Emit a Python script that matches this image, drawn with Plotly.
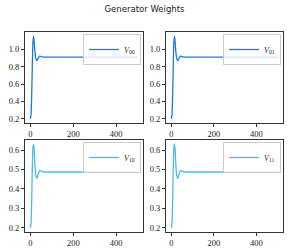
import plotly.graph_objects as go

# ---- data ----
steps = [0, 3, 6, 9, 12, 15, 18, 21, 25, 29, 32, 35, 39, 44, 50, 56, 65, 80, 500]
v00 = [0.2, 0.24, 0.45, 0.80, 1.08, 1.15, 1.08, 0.98, 0.90, 0.87, 0.872, 0.89, 0.91, 0.92, 0.915, 0.912, 0.91, 0.91, 0.91]
v01 = [0.2, 0.24, 0.45, 0.80, 1.08, 1.15, 1.08, 0.98, 0.90, 0.87, 0.872, 0.89, 0.91, 0.92, 0.915, 0.912, 0.91, 0.91, 0.91]
v10 = [0.2, 0.22, 0.33, 0.50, 0.61, 0.63, 0.60, 0.53, 0.47, 0.455, 0.458, 0.47, 0.485, 0.495, 0.492, 0.489, 0.487, 0.487, 0.487]
v11 = [0.2, 0.22, 0.33, 0.50, 0.61, 0.63, 0.60, 0.53, 0.47, 0.455, 0.458, 0.47, 0.485, 0.495, 0.492, 0.489, 0.487, 0.487, 0.487]
labels = ["<i>V</i><sub>00</sub>", "<i>V</i><sub>01</sub>", "<i>V</i><sub>10</sub>", "<i>V</i><sub>11</sub>"]
series = [v00, v01, v10, v11]
xticks = [0, 200, 400]
title = "Generator Weights"

W, H = 289, 249
colors = ["#1f78e0", "#1f78e0", "#4db9f2", "#4db9f2"]
tickfont = dict(family="Liberation Serif", size=8.5, color="#222")

# panel pixel boxes (left, right, top, bottom)
boxes = [(25, 143, 32, 123), (166, 283, 32, 123), (25, 143, 140, 232), (166, 283, 140, 232)]

fig = go.Figure()
layout = dict(width=W, height=H, margin=dict(l=0, r=0, t=0, b=0),
              paper_bgcolor="white", plot_bgcolor="white", showlegend=True)

def pad(lo, hi):
    d = (hi - lo) * 0.05
    return [lo - d, hi + d]

for i, (vals, lab, (l, r, t, b)) in enumerate(zip(series, labels, boxes)):
    ax = "" if i == 0 else str(i + 1)
    lg = "legend" if i == 0 else f"legend{i + 1}"
    fig.add_trace(go.Scatter(x=steps, y=vals, mode="lines", name=lab,
                             line=dict(color=colors[i], width=1.3, shape="spline", smoothing=0.6),
                             xaxis="x" + ax, yaxis="y" + ax, legend=lg))
    xd = [l / W, r / W]
    yd = [(H - b) / H, (H - t) / H]
    ymin, ymax = min(vals), max(vals)
    yr = pad(ymin, ymax)
    dt = 0.2 if ymax > 0.8 else 0.1
    layout["xaxis" + ax] = dict(domain=xd, range=pad(min(steps), max(steps)), tickvals=xticks,
                                anchor="y" + ax, showgrid=False, zeroline=False,
                                showline=True, linecolor="#333", linewidth=1, mirror=True,
                                ticks="outside", ticklen=3, tickcolor="#333", tickfont=tickfont)
    layout["yaxis" + ax] = dict(domain=yd, range=yr, dtick=dt, tick0=0, tickformat=".1f",
                                anchor="x" + ax, showgrid=False, zeroline=False,
                                showline=True, linecolor="#333", linewidth=1, mirror=True,
                                ticks="outside", ticklen=3, tickcolor="#333", tickfont=tickfont)
    layout[lg] = dict(x=(r - 2) / W, y=(H - t - 2) / H, xanchor="right", yanchor="top",
                      xref="paper", yref="paper", bgcolor="rgba(255,255,255,0.8)",
                      bordercolor="#ccc", borderwidth=1,
                      font=dict(family="Liberation Serif", size=8, color="#222"),
                      itemwidth=30, tracegroupgap=0)

layout["title"] = dict(text=title, x=0.5, xanchor="center", y=1 - 9 / H, yanchor="middle",
                       font=dict(family="DejaVu Sans", size=8.5, color="#222"))
fig.update_layout(**layout)
fig.write_html("out.html", config={"displayModeBar": False},
               post_script="document.body.style.margin='0';document.body.style.overflow='hidden';")
